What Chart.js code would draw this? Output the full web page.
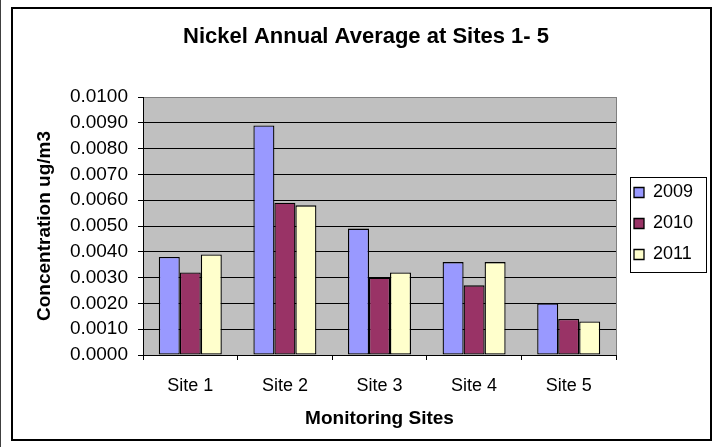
<!DOCTYPE html>
<html>
<head>
<meta charset="utf-8">
<script src="https://cdn.jsdelivr.net/npm/chart.js@4/dist/chart.umd.min.js"></script>
<style>
  html, body { margin: 0; padding: 0; background: #fff; }
  #wrap { position: relative; width: 718px; height: 447px; }
</style>
</head>
<body>
<div id="wrap"><canvas id="nickelChart"></canvas></div>
<script>
// data
const sites = ["Site 1", "Site 2", "Site 3", "Site 4", "Site 5"];
const years = ["2009", "2010", "2011"];
const values2009 = [0.0038, 0.0089, 0.0049, 0.0036, 0.0020];
const values2010 = [0.0032, 0.0059, 0.0030, 0.0027, 0.0014];
const values2011 = [0.0039, 0.0058, 0.0032, 0.0036, 0.0013];
const yMin = 0, yMax = 0.01, yStep = 0.001;

const barColors = ["#9999FF", "#993366", "#FFFFCC"];
const FONT = "'Liberation Sans', Arial, sans-serif";

Chart.defaults.color = "#000";
Chart.defaults.font.family = FONT;

// gray plot area, plot border, legend frame and outer frame
const excelLook = {
  id: "excelLook",
  beforeLayout(chart) {
    const lg = chart.legend;
    if (lg && !lg._fixed) {
      const fit = lg.fit;
      lg.fit = function () { fit.call(this); this.width = 102; };
      const draw = lg.draw;
      lg.draw = function () {
        const c = this.ctx;
        c.save(); c.translate(5, 0); draw.call(this); c.restore();
      };
      lg._fixed = true;
    }
  },
  beforeDraw(chart) {
    const { ctx, chartArea: a } = chart;
    ctx.save();
    ctx.fillStyle = "#C0C0C0";
    ctx.fillRect(a.left, a.top, a.right - a.left, a.bottom - a.top);
    ctx.restore();
  },
  afterDraw(chart) {
    const { ctx, chartArea: a } = chart;
    ctx.save();
    // plot area right edge
    ctx.strokeStyle = "#808080";
    ctx.lineWidth = 1;
    ctx.beginPath();
    ctx.moveTo(Math.round(a.right) + 0.5, a.top);
    ctx.lineTo(Math.round(a.right) + 0.5, a.bottom);
    ctx.stroke();
    // legend frame
    const lg = chart.legend;
    const hb = lg.legendHitBoxes;
    if (hb && hb.length) {
      const bx = Math.round(lg.left) + 14.5;
      const by = Math.round(hb[0].top) - 6.5;
      const bb = Math.round(hb[hb.length - 1].top + hb[hb.length - 1].height) + 8.5;
      ctx.strokeStyle = "#000";
      ctx.strokeRect(bx, by, 76, bb - by);
    }
    // outer chart frame
    ctx.lineWidth = 2;
    ctx.strokeStyle = "#000";
    ctx.strokeRect(12, 8, 699, 432);
    ctx.lineWidth = 1;
    ctx.strokeStyle = "#404040";
    ctx.beginPath();
    ctx.moveTo(0.5, 0);
    ctx.lineTo(0.5, 447);
    ctx.stroke();
    ctx.restore();
  }
};

const datasets = [values2009, values2010, values2011].map((vals, i) => ({
  label: years[i],
  data: vals,
  backgroundColor: barColors[i],
  borderColor: "#000",
  borderWidth: 1.3,
  borderSkipped: false,
  categoryPercentage: 0.666,
  barPercentage: 1.0
}));

const ctx = document.getElementById("nickelChart").getContext("2d");
const nickelChart = new Chart(ctx, {
  type: "bar",
  data: { labels: sites, datasets: datasets },
  plugins: [excelLook],
  options: {
    responsive: true,
    maintainAspectRatio: false,
    animation: false,
    events: [],
    layout: { padding: { left: 14, top: 10, right: 0, bottom: 10 } },
    plugins: {
      title: {
        display: true,
        text: "Nickel Annual Average at Sites 1- 5",
        font: { size: 22, weight: "bold", family: FONT },
        color: "#000",
        padding: { top: 14, bottom: 46.6 }
      },
      legend: {
        display: true,
        position: "right",
        labels: {
          boxWidth: 10,
          boxHeight: 10,
          padding: 13,
          color: "#000",
          font: { size: 18, family: FONT }
        }
      },
      tooltip: { enabled: false }
    },
    scales: {
      x: {
        afterFit(s) { s.height = 82; },
        grid: {
          offset: true,
          drawOnChartArea: false,
          drawTicks: true,
          tickLength: 5,
          color: "#000",
          tickColor: "#000"
        },
        border: { display: true, color: "#000", width: 1 },
        ticks: { font: { size: 18, family: FONT }, padding: 15, color: "#000" },
        title: {
          display: true,
          text: "Monitoring Sites",
          font: { size: 19, weight: "bold", family: FONT },
          color: "#000",
          padding: { top: 0, bottom: 7 }
        }
      },
      y: {
        min: yMin,
        max: yMax,
        afterFit(s) { s.width = 129; },
        grid: {
          color: (c) => (c.tick && c.tick.value >= yMax - 1e-9 ? "#808080" : "#000"),
          tickColor: "#000",
          tickLength: 5,
          lineWidth: 1
        },
        border: { display: true, color: "#000", width: 1 },
        ticks: {
          stepSize: yStep,
          font: { size: 19, family: FONT },
          padding: 10,
          color: "#000",
          callback: (v) => Number(v).toFixed(4)
        },
        title: {
          display: true,
          text: "Concentration ug/m3",
          font: { size: 19, weight: "bold", family: FONT },
          color: "#000",
          padding: { top: 19, bottom: 0 }
        }
      }
    }
  }
});
</script>
</body>
</html>
